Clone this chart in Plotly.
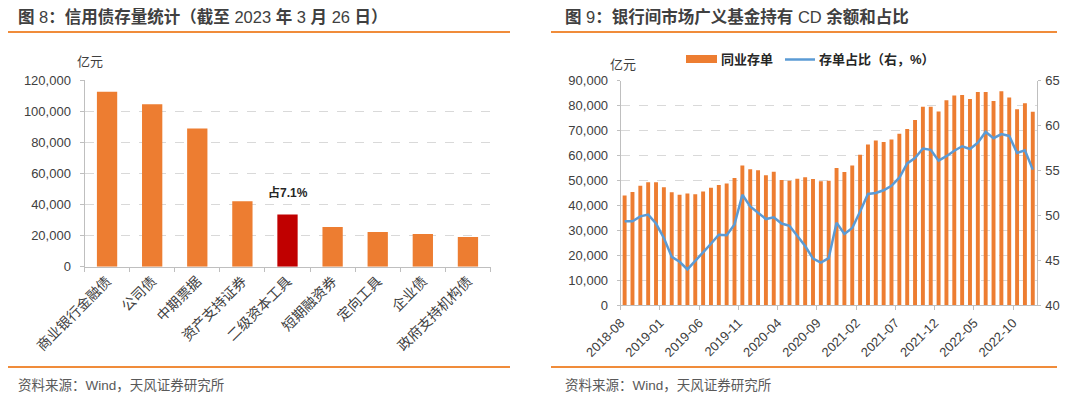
import plotly.graph_objects as go
import pandas as pd

# ---------------- data ----------------
categories = ["商业银行金融债", "公司债", "中期票据", "资产支持证券", "二级资本工具",
              "短期融资券", "定向工具", "企业债", "政府支持机构债"]
stock_values = [112500, 104400, 88900, 42000, 33600, 25500, 22300, 21000, 19100]
highlight_cat = "二级资本工具"
highlight_text = "占7.1%"

months = [d.strftime("%Y-%m") for d in pd.date_range("2018-08-01", "2022-12-01", freq="MS")]
cd_balance = [44000, 45400, 47900, 49300, 49300, 47300, 45300, 44300, 44800, 44500,
              45600, 47100, 48200, 48800, 51000, 56000, 54500, 54100, 52100, 53500,
              50200, 49900, 50700, 51300, 50600, 49700, 49900, 55000, 53400, 56000,
              60300, 64400, 66000, 65400, 66400, 68700, 70600, 74300, 79600, 79600,
              77700, 82200, 84100, 84300, 82700, 85500, 85500, 81900, 85800, 83300,
              78600, 81000, 77600]
cd_share = [49.35, 49.35, 49.9, 50.1, 49.1, 47.5, 45.4, 44.85, 44.0, 45.0,
            45.9, 46.85, 47.85, 47.8, 49.0, 52.3, 51.0, 50.3, 49.6, 49.8,
            49.1, 48.85, 47.7, 46.6, 45.2, 44.75, 45.25, 49.2, 47.95, 48.6,
            50.45, 52.4, 52.5, 52.8, 53.3, 54.2, 55.8, 56.4, 57.45, 57.3,
            56.1, 56.6, 57.2, 57.7, 57.4, 58.1, 59.3, 58.6, 59.05, 58.85,
            56.95, 57.25, 55.1]
tick_step = 5

title_left = "<b>图 </b>8<b>：信用债存量统计（截至 </b>2023<b> 年 </b>3<b> 月 </b>26<b> 日）</b>"
title_right = "<b>图 </b>9<b>：银行间市场广义基金持有 </b>CD<b> 余额和占比</b>"
source_text = "资料来源：Wind，天风证券研究所"
unit_text = "亿元"
legend_bar = "同业存单"
legend_line = "存单占比（右，%）"

# ---------------- style ----------------
OFF = 8                      # page body margin in the browser
W, H = 1080 - OFF, 399 - OFF  # figure size so that it fills the window
ORANGE = "#ED7D31"
RED = "#C00000"
BLUE = "#5B9BD5"
RULE = "#F08C3A"
AXIS = "#BFBFBF"
GRID = "#D9D9D9"
TXT = "#404040"
FONT = "Liberation Sans, Arial, Noto Sans CJK SC"
CJK = "Liberation Sans, Noto Sans CJK SC"


def px(x):
    return (x - OFF) / W


def py(y):
    return 1 - (y - OFF) / H


fig = go.Figure()

# left chart bars
fig.add_trace(go.Bar(
    x=categories, y=stock_values, width=0.45,
    marker=dict(color=[RED if c == highlight_cat else ORANGE for c in categories], line_width=0),
    xaxis="x", yaxis="y", showlegend=False, hoverinfo="x+y"))

# right chart
idx = list(range(len(months)))
fig.add_trace(go.Bar(
    x=idx, y=cd_balance, width=0.5, marker=dict(color=ORANGE, line_width=0),
    xaxis="x2", yaxis="y2", showlegend=False, name=legend_bar))
fig.add_trace(go.Scatter(
    x=idx, y=cd_share, mode="lines", line=dict(color=BLUE, width=2.5),
    xaxis="x2", yaxis="y3", showlegend=False, name=legend_line))

axis_common = dict(showline=True, linecolor=AXIS, linewidth=1, zeroline=False,
                   automargin=False)
tickfont = dict(family=FONT, size=13, color=TXT)

fig.update_layout(
    width=W, height=H, margin=dict(l=0, r=0, t=0, b=0, pad=0, autoexpand=False),
    paper_bgcolor="white", plot_bgcolor="white",
    showlegend=False,
    xaxis=dict(domain=[px(84.5), px(490.5)], anchor="y", type="category",
               ticks="outside", ticklen=4, tickcolor=AXIS, tickson="boundaries",
               tickangle=-45, showgrid=False,
               tickfont=dict(family=CJK, size=14, color=TXT), **axis_common),
    yaxis=dict(domain=[py(266.7), py(80)], anchor="x", range=[0, 120000], dtick=20000,
               tickformat=",", showgrid=True, gridcolor=GRID, griddash="dash",
               ticks="outside", ticklen=4, tickcolor=AXIS, ticklabelstandoff=6,
               tickfont=tickfont, **axis_common),
    xaxis2=dict(domain=[px(620.7), px(1036.7)], anchor="y2", range=[-0.5, len(months) - 0.5],
                tickmode="array", tickvals=[i - 0.5 for i in idx[::tick_step]],
                ticktext=months[::tick_step], tickangle=-45,
                ticks="outside", ticklen=4, tickcolor=AXIS, showgrid=False,
                tickfont=tickfont, **axis_common),
    yaxis2=dict(domain=[py(305.3), py(80.7)], anchor="x2", range=[0, 90000], dtick=10000,
                tickformat=",", showgrid=True, gridcolor=GRID, griddash="dash",
                ticks="outside", ticklen=3, tickcolor=AXIS, ticklabelstandoff=6,
                tickfont=tickfont, **axis_common),
    yaxis3=dict(overlaying="y2", side="right", anchor="x2", range=[40, 65], dtick=5,
                showgrid=False, ticks="outside", ticklen=3, tickcolor=AXIS,
                ticklabelstandoff=2, tickfont=tickfont, **axis_common),
)

ann = []
# titles
ann.append(dict(x=px(16), y=py(17), xref="paper", yref="paper", text=title_left,
                showarrow=False, xanchor="left", yanchor="middle",
                font=dict(family=CJK, size=16.5, color=TXT)))
ann.append(dict(x=px(563), y=py(17), xref="paper", yref="paper", text=title_right,
                showarrow=False, xanchor="left", yanchor="middle",
                font=dict(family=CJK, size=16.5, color=TXT)))
# sources
for x0 in (16, 563):
    ann.append(dict(x=px(x0), y=py(385), xref="paper", yref="paper", text=source_text,
                    showarrow=False, xanchor="left", yanchor="middle",
                    font=dict(family=CJK, size=13.5, color="#595959")))
# units
ann.append(dict(x=px(90), y=py(62), xref="paper", yref="paper", text=unit_text,
                showarrow=False, xanchor="center", yanchor="middle",
                font=dict(family=CJK, size=13, color=TXT)))
ann.append(dict(x=px(623), y=py(65), xref="paper", yref="paper", text=unit_text,
                showarrow=False, xanchor="center", yanchor="middle",
                font=dict(family=CJK, size=13, color=TXT)))
# highlight label
ann.append(dict(x=highlight_cat, y=stock_values[categories.index(highlight_cat)],
                xref="x", yref="y", text="<b>" + highlight_text + "</b>", showarrow=False,
                yanchor="bottom", yshift=12,
                font=dict(family=CJK, size=12, color="#262626")))
# manual legend text
ann.append(dict(x=px(719), y=py(59), xref="paper", yref="paper", text="<b>" + legend_bar + "</b>",
                showarrow=False, xanchor="left", yanchor="middle",
                font=dict(family=CJK, size=13, color="#262626")))
ann.append(dict(x=px(817), y=py(59), xref="paper", yref="paper", text="<b>" + legend_line + "</b>",
                showarrow=False, xanchor="left", yanchor="middle",
                font=dict(family=CJK, size=13, color="#262626")))
fig.update_layout(annotations=ann)

shapes = []
for (x0, x1) in ((4, 510), (551, 1057)):
    for y0 in (32, 367):
        shapes.append(dict(type="line", xref="paper", yref="paper",
                           x0=max(px(x0), 0), x1=px(x1), y0=py(y0), y1=py(y0),
                           line=dict(color=RULE, width=2)))
# legend symbols
shapes.append(dict(type="rect", xref="paper", yref="paper", x0=px(686), x1=px(717),
                   y0=py(63), y1=py(55), fillcolor=ORANGE, line_width=0))
shapes.append(dict(type="line", xref="paper", yref="paper", x0=px(785), x1=px(815),
                   y0=py(59.5), y1=py(59.5), line=dict(color=BLUE, width=2.5)))
fig.update_layout(shapes=shapes)

fig.write_html("out.html")
